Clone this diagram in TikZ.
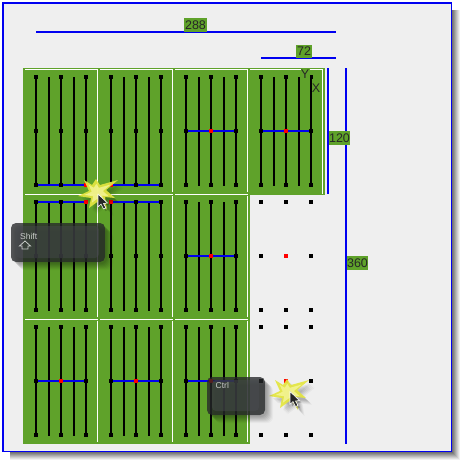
\documentclass[tikz,border=0pt]{standalone}
\usepackage{fontspec}
\setmainfont{Liberation Sans}
\definecolor{cellgreen}{HTML}{5FA22A}
\definecolor{panelgray}{HTML}{EFEFEF}
\definecolor{dimblue}{HTML}{0000F0}
\definecolor{burstyellow}{HTML}{E4E640}
\definecolor{burstcore}{HTML}{F8F8A8}
\definecolor{keydark}{HTML}{26282A}
\definecolor{keyinner}{HTML}{4A4D52}
\definecolor{keytext}{HTML}{C8CCC8}
\tikzset{
  x=1pt,y=-1pt,
  rail/.style={line width=2pt,black},
  dimline/.style={line width=2pt,dimblue},
  gridline/.style={line width=1pt,white},
  dimlabel/.style={fill=cellgreen,inner sep=0pt,minimum height=13.5pt,text=black!85,font=\fontsize{12.5}{13}\selectfont},
  axislabel/.style={fill=cellgreen,inner sep=0pt,minimum width=9pt,minimum height=12.5pt,text=black!85,font=\fontsize{12.5}{13}\selectfont},
  keytextstyle/.style={inner sep=0pt,text=keytext,font=\fontsize{8.5}{9}\selectfont},
}
% a square handle
\newcommand{\handle}[3]{\fill[#1] (#2-2.3,#3-2.3) rectangle (#2+2.3,#3+2.3);}
% the five rails and handles of a cell whose first rail is at x=#1 and top at y=#2
\newcommand{\railcell}[2]{%
  \draw[rail] (#1,#2) -- (#1,#2+108);
  \draw[rail] (#1+13,#2) -- (#1+13,#2+109);
  \draw[rail] (#1+25,#2) -- (#1+25,#2+108);
  \draw[rail] (#1+38,#2) -- (#1+38,#2+109);
  \draw[rail] (#1+50,#2) -- (#1+50,#2+108);
  \dotcell{#1}{#2}}
\newcommand{\dotcell}[2]{%
  \foreach \dx in {0,25,50}{\foreach \dy in {0,54,108}{\handle{black}{#1+\dx}{#2+\dy}}}}
% blue bar at y=#2 with red handle at x=#3, in cell with first rail x=#1
\newcommand{\bluebar}[3]{\draw[line width=2pt,dimblue] (#1,#2) -- (#1+50,#2); \handle{red}{#3}{#2}}
% burst with tip of cursor
\newcommand{\burstpath}{(-13,-13) -- (-5,-8) -- (-1,-14) -- (3,-8) -- (21,-13) -- (9,-3) -- (18,5) -- (8,4) -- (10,17) -- (3,7) -- (-8,15) -- (-6,5) -- (-19,3) -- (-8,-2) -- cycle}
\newcommand{\burstmark}[2]{%
  \begin{scope}[shift={(#1,#2)}]
    \foreach \o/\a in {7/0.04,6/0.05,5/0.06,4/0.07,3/0.07}{\fill[black,opacity=\a,shift={(\o,\o)},scale=.95] \burstpath;}
    \fill[burstyellow,opacity=.92] \burstpath;
    \fill[burstcore,opacity=.7,scale=.65] \burstpath;
  \end{scope}}
\newcommand{\arrowcursor}[2]{%
  \begin{scope}[shift={(#1,#2)}]
    \fill[black,opacity=.2,shift={(2,2)}] (0,0) -- (0,13) -- (3,10) -- (5.5,15) -- (8,14) -- (5.5,9.5) -- (9.5,9) -- cycle;
    \draw[fill=black!85,draw=white,line width=.6pt,line join=round] (0,0) -- (0,13) -- (3,10) -- (5.5,15) -- (8,14) -- (5.5,9.5) -- (9.5,9) -- cycle;
  \end{scope}}
% translucent key cap
\newcommand{\keycap}[4]{%
  \foreach \o/\a in {8/0.03,7/0.04,6/0.05,5/0.05,4/0.06,3/0.06,2/0.06}{\fill[black,opacity=\a,rounded corners=6pt] (#1+\o,#2+\o) rectangle (#3+\o,#4+\o);}
  \fill[keydark,opacity=.78,rounded corners=5pt] (#1,#2) rectangle (#3,#4);
  \fill[keyinner,opacity=.45,rounded corners=4pt] (#1+5,#2+3) rectangle (#3-6,#4-4);}
\begin{document}
\begin{tikzpicture}
\useasboundingbox (0,0) rectangle (469,469);
\fill[white] (0,0) rectangle (469,469);
% drop shadow of the panel
\foreach \o/\a in {9/0.06,8/0.07,7/0.08,6/0.09,5/0.10,4/0.11,3/0.12,2/0.13,1/0.14}{
  \fill[black,opacity=\a] (10,10) rectangle (451+\o,451+\o);}
% panel
\fill[panelgray] (3,3) rectangle (451.5,451.5);
\draw[dimblue,line width=1.2pt] (3,3) rectangle (451.5,451.5);
\draw[dimblue,line width=2.2pt] (3,451.5) -- (3,3) -- (451.5,3);
% green cells
\fill[cellgreen] (23,67.5) rectangle (325,194.5);
\fill[cellgreen] (23,194) rectangle (250,443.7);
% white grid
\foreach \x in {25,100,175,250}{\draw[gridline] (\x,69) -- (\x+73,69);}
\foreach \x in {97.6,172.6,247.6}{\draw[gridline] (\x,69) -- (\x,192);}
\draw[gridline] (322.6,69) -- (322.6,194);
\foreach \x in {25,100,175}{\draw[gridline] (\x,194.2) -- (\x+73,194.2);\draw[gridline] (\x,319.3) -- (\x+73,319.3);}
\foreach \x in {97.6,172.6,247.6}{\draw[gridline] (\x,196) -- (\x,317);\draw[gridline] (\x,321) -- (\x,441.7);}
% rails
\foreach \r in {77,202,327}{\foreach \c in {36,111,186}{\railcell{\c}{\r}}}
\railcell{261}{77}
\dotcell{261}{202}
\dotcell{261}{327}
% blue bars with red handles
\bluebar{36}{185}{86}
\bluebar{111}{185}{111}
\bluebar{36}{202}{86}
\bluebar{111}{202}{111}
\bluebar{186}{131}{211}
\bluebar{261}{131}{286}
\bluebar{186}{256}{211}
\bluebar{36}{381}{61}
\bluebar{111}{381}{136}
\bluebar{186}{381}{211}
\handle{red}{286}{256}
\handle{red}{286}{381}
\foreach \x in {186,236,261,311}{\handle{black}{\x}{131}}
\foreach \x in {36,61,136,161}{\handle{black}{\x}{185}\handle{black}{\x}{202}}
\foreach \x in {36,86,111,161,186,236}{\handle{black}{\x}{381}}
\handle{black}{186}{256}\handle{black}{236}{256}
% dimensions
\coordinate (d288a) at (36,32);
\coordinate (d288b) at (336,32);
\coordinate (d72a) at (261,58);
\coordinate (d72b) at (336,58);
\coordinate (d120a) at (328,68);
\coordinate (d120b) at (328,194);
\coordinate (d360a) at (346,68);
\coordinate (d360b) at (346,444);
\draw[dimline] (d288a) -- (d288b);
\draw[dimline] (d72a) -- (d72b);
\draw[dimline] (d120a) -- (d120b);
\draw[dimline] (d360a) -- (d360b);
\node[dimlabel,minimum width=23pt] (lab288) at (195.5,25) {288};
\node[dimlabel,minimum width=16pt] (lab72) at (304,51.5) {72};
\node[dimlabel,minimum width=21pt] (lab120) at (339.5,138) {120};
\node[dimlabel,minimum width=21pt] (lab360) at (357.5,263) {360};
\node[axislabel] (laby) at (305,74) {Y};
\node[axislabel] (labx) at (316,88) {X};
% bursts and cursors
\burstmark{97}{193}
\arrowcursor{98}{194}
\burstmark{288}{393}
\arrowcursor{290}{391.5}
% key caps
\keycap{11}{223}{105}{262}
\node[keytextstyle,anchor=west] (shiftkey) at (20,236) {Shift};
\draw[keytext,line width=.8pt,line join=miter] (25,241) -- (30.5,246) -- (28,246) -- (28,249) -- (22,249) -- (22,246) -- (19.5,246) -- cycle;
\keycap{207}{377}{265}{415}
\node[keytextstyle,anchor=west] (ctrlkey) at (215.5,385.5) {Ctrl};
\end{tikzpicture}
\end{document}
